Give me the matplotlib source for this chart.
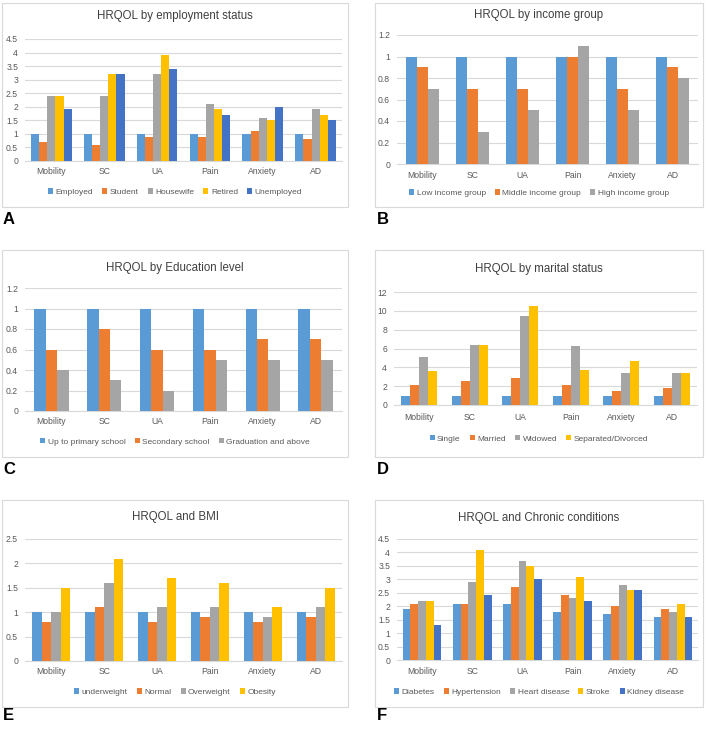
import matplotlib
matplotlib.use("Agg")
import matplotlib.pyplot as plt
from matplotlib.patches import Rectangle, Patch
import matplotlib.transforms as mtransforms
import numpy as np

W, H = 708, 736
plt.rcParams['font.family'] = ['Liberation Sans', 'DejaVu Sans']

categories = ["Mobility", "SC", "UA", "Pain", "Anxiety", "AD"]

# Panel A
a_title = "HRQOL by employment status"
a_series = ["Employed", "Student", "Housewife", "Retired", "Unemployed"]
a_employed = [1, 1, 1, 1, 1, 1]
a_student = [0.7, 0.6, 0.9, 0.9, 1.1, 0.8]
a_housewife = [2.4, 2.4, 3.2, 2.1, 1.6, 1.9]
a_retired = [2.4, 3.2, 3.9, 1.9, 1.5, 1.7]
a_unemployed = [1.9, 3.2, 3.4, 1.7, 2.0, 1.5]

# Panel B
b_title = "HRQOL by income group"
b_series = ["Low income group", "Middle income group", "High income group"]
b_low = [1, 1, 1, 1, 1, 1]
b_middle = [0.9, 0.7, 0.7, 1.0, 0.7, 0.9]
b_high = [0.7, 0.3, 0.5, 1.1, 0.5, 0.8]

# Panel C
c_title = "HRQOL by Education level"
c_series = ["Up to primary school", "Secondary school", "Graduation and above"]
c_primary = [1, 1, 1, 1, 1, 1]
c_secondary = [0.6, 0.8, 0.6, 0.6, 0.7, 0.7]
c_graduate = [0.4, 0.3, 0.2, 0.5, 0.5, 0.5]

# Panel D
d_title = "HRQOL by marital status"
d_series = ["Single", "Married", "Widowed", "Separated/Divorced"]
d_single = [1, 1, 1, 1, 1, 1]
d_married = [2.1, 2.6, 2.9, 2.1, 1.5, 1.8]
d_widowed = [5.1, 6.4, 9.5, 6.3, 3.35, 3.45]
d_separated = [3.6, 6.4, 10.5, 3.7, 4.7, 3.35]

# Panel E
e_title = "HRQOL and BMI"
e_series = ["underweight", "Normal", "Overweight", "Obesity"]
e_under = [1, 1, 1, 1, 1, 1]
e_normal = [0.8, 1.1, 0.8, 0.9, 0.8, 0.9]
e_over = [1.0, 1.6, 1.1, 1.1, 0.9, 1.1]
e_obese = [1.5, 2.1, 1.7, 1.6, 1.1, 1.5]

# Panel F
f_title = "HRQOL and Chronic conditions"
f_series = ["Diabetes", "Hypertension", "Heart disease", "Stroke", "Kidney disease"]
f_diabetes = [1.9, 2.1, 2.1, 1.8, 1.7, 1.6]
f_hyper = [2.1, 2.1, 2.7, 2.4, 2.0, 1.9]
f_heart = [2.2, 2.9, 3.7, 2.3, 2.8, 1.8]
f_stroke = [2.2, 4.1, 3.5, 3.1, 2.6, 2.1]
f_kidney = [1.3, 2.4, 3.0, 2.2, 2.6, 1.6]

colors = ["#5B9BD5", "#ED7D31", "#A5A5A5", "#FFC000", "#4472C4"]

fig = plt.figure(figsize=(W / 100, H / 100), dpi=100)
fig.patch.set_facecolor("white")

panels = [
    dict(label="A", title=a_title, names=a_series, data=[a_employed, a_student, a_housewife, a_retired, a_unemployed],
         box=(2, 3, 348, 207), plot=(25, 39, 342, 161), ymax=4.5, step=0.5, ty=16, xly=172, ly=192, lab=(3, 219), gw=0.77),
    dict(label="B", title=b_title, names=b_series, data=[b_low, b_middle, b_high],
         box=(375, 3, 703, 207), plot=(397, 35, 698, 164), ymax=1.2, step=0.2, ty=15, xly=175, ly=193, lab=(377, 219), gw=0.66),
    dict(label="C", title=c_title, names=c_series, data=[c_primary, c_secondary, c_graduate],
         box=(2, 250, 348, 457), plot=(25, 288, 342, 411), ymax=1.2, step=0.2, ty=268, xly=421, ly=442, lab=(3, 469), gw=0.65),
    dict(label="D", title=d_title, names=d_series, data=[d_single, d_married, d_widowed, d_separated],
         box=(375, 250, 703, 457), plot=(394, 292, 697, 405), ymax=12, step=2, ty=269, xly=418, ly=439, lab=(377, 469), gw=0.72),
    dict(label="E", title=e_title, names=e_series, data=[e_under, e_normal, e_over, e_obese],
         box=(2, 500, 348, 707), plot=(25, 539, 342, 661), ymax=2.5, step=0.5, ty=517, xly=672, ly=692, lab=(3, 716), gw=0.72),
    dict(label="F", title=f_title, names=f_series, data=[f_diabetes, f_hyper, f_heart, f_stroke, f_kidney],
         box=(375, 500, 703, 707), plot=(397, 539, 698, 660), ymax=4.5, step=0.5, ty=518, xly=671, ly=692, lab=(377, 716), gw=0.77),
]

def fx(x):
    return x / W

def fy(y):
    return 1 - y / H

TICK_FS = 6.2
LEG_FS = 6.0
TITLE_FS = 8.3
TXT = "#595959"

for p in panels:
    bx0, by0, bx1, by1 = p["box"]
    fig.patches.append(Rectangle((fx(bx0), fy(by1)), (bx1 - bx0) / W, (by1 - by0) / H,
                                 transform=fig.transFigure, fill=False, edgecolor="#D9D9D9", lw=0.8))
    px0, py0, px1, py1 = p["plot"]
    ax = fig.add_axes([fx(px0), fy(py1), (px1 - px0) / W, (py1 - py0) / H])
    n = len(p["data"])
    bw = p["gw"] / n
    x = np.arange(len(categories))
    for i, (vals, name) in enumerate(zip(p["data"], p["names"])):
        ax.bar(x - p["gw"] / 2 + bw * (i + 0.5), vals, width=bw, color=colors[i], zorder=3, label=name)
    ax.set_xlim(-0.5, len(categories) - 0.5)
    ax.set_ylim(0, p["ymax"])
    ticks = np.round(np.arange(0, p["ymax"] + 1e-9, p["step"]), 2)
    ax.set_yticks(ticks)
    ax.set_yticklabels([f"{t:g}" for t in ticks], fontsize=TICK_FS, color=TXT)
    ax.set_xticks(x)
    ax.set_xticklabels([])
    tr = mtransforms.blended_transform_factory(ax.transData, fig.transFigure)
    for xi, c in zip(x, categories):
        ax.text(xi, fy(p["xly"]), c, transform=tr, fontsize=TICK_FS, color=TXT,
                ha="center", va="center", clip_on=False)
    ax.grid(axis="y", color="#D9D9D9", lw=0.8, zorder=0)
    for s in ["top", "right", "left"]:
        ax.spines[s].set_visible(False)
    ax.spines["bottom"].set_color("#D9D9D9")
    ax.tick_params(length=0, pad=5)
    ax.set_facecolor("none")
    fig.text(fx((bx0 + bx1) / 2), fy(p["ty"]), p["title"], fontsize=TITLE_FS, color="#404040",
             ha="center", va="center")
    handles = [Patch(facecolor=colors[i], label=nm) for i, nm in enumerate(p["names"])]
    fig.legend(handles=handles, loc="center", bbox_to_anchor=(fx((bx0 + bx1) / 2), fy(p["ly"])),
               ncol=n, frameon=False, fontsize=LEG_FS, handlelength=0.6, handleheight=0.6,
               handletextpad=0.3, columnspacing=1.1, labelcolor=TXT)
    fig.text(fx(p["lab"][0]), fy(p["lab"][1]), p["label"], fontsize=12, fontweight="bold",
             ha="left", va="center", color="black")

fig.savefig("out.png", dpi=100)
